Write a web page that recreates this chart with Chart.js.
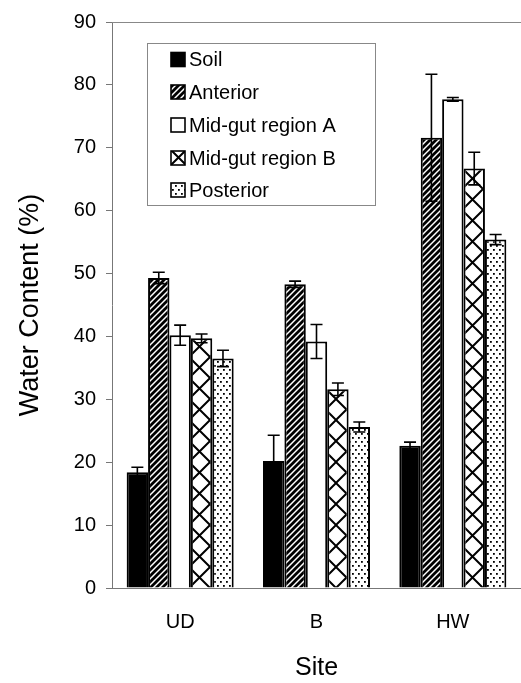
<!DOCTYPE html>
<html><head><meta charset="utf-8">
<script src="https://cdn.jsdelivr.net/npm/chart.js@4/dist/chart.umd.min.js"></script>
<style>html,body{margin:0;padding:0;background:#fff}#wrap{width:521px;height:683px}</style>
</head><body><div id="wrap"><canvas id="c" width="521" height="683"></canvas></div>
<script>
const categories = ['UD', 'B', 'HW'];
const seriesNames = ['Soil', 'Anterior', 'Mid-gut region A', 'Mid-gut region B', 'Posterior'];
const soil = [18.4, 20.2, 22.6];
const soilErr = [0.8, 4.1, 0.6];
const anterior = [49.3, 48.3, 71.6];
const anteriorErr = [0.9, 0.5, 10.1];
const midA = [40.2, 39.2, 77.7];
const midAErr = [1.6, 2.7, 0.3];
const midB = [39.7, 31.6, 66.7];
const midBErr = [0.7, 1.0, 2.6];
const posterior = [36.5, 25.6, 55.4];
const posteriorErr = [1.3, 0.8, 0.8];
const yTicks = [0, 10, 20, 30, 40, 50, 60, 70, 80, 90];

const FONT = "'Liberation Sans', Arial, Helvetica, sans-serif";
Chart.defaults.font.family = FONT;

function makeTile(w, h, draw) {
  const c = document.createElement('canvas');
  c.width = w; c.height = h;
  const g = c.getContext('2d');
  g.fillStyle = '#fff'; g.fillRect(0, 0, w, h);
  draw(g, w, h);
  return document.getElementById('c').getContext('2d').createPattern(c, 'repeat');
}
const stripePat = makeTile(6, 6, (g, w, h) => {
  g.strokeStyle = '#000'; g.lineWidth = 2.8; g.lineCap = 'square';
  g.beginPath();
  g.moveTo(-1, h + 1); g.lineTo(w + 1, -1);
  g.moveTo(-w / 2 - 1, h / 2 + 1); g.lineTo(w / 2 + 1, -h / 2 - 1);
  g.moveTo(w / 2 - 1, h * 1.5 + 1); g.lineTo(w * 1.5 + 1, h / 2 - 1);
  g.stroke();
});
const crossPat = makeTile(21, 21, (g, w, h) => {
  g.strokeStyle = '#000'; g.lineWidth = 2;
  g.beginPath();
  g.moveTo(-1, -1); g.lineTo(w + 1, h + 1);
  g.moveTo(w + 1, -1); g.lineTo(-1, h + 1);
  g.stroke();
});
const dotPat = makeTile(6, 8, (g) => {
  g.fillStyle = '#000';
  g.fillRect(1, 1, 1.8, 1.8);
  g.fillRect(4, 5, 1.8, 1.8);
});

const fills = ['#000', stripePat, '#fff', crossPat, dotPat];
const values = [soil, anterior, midA, midB, posterior];
const errors = [soilErr, anteriorErr, midAErr, midBErr, posteriorErr];

const datasets = seriesNames.map((name, i) => ({
  label: name,
  data: values[i],
  errors: errors[i],
  backgroundColor: fills[i],
  borderColor: '#000',
  borderWidth: 2,
  barPercentage: 1,
  categoryPercentage: 0.785
}));

const framePlugin = {
  id: 'frame',
  beforeDatasetsDraw(chart) {
    const { ctx, chartArea } = chart;
    ctx.save();
    ctx.strokeStyle = '#888'; ctx.lineWidth = 1;
    ctx.beginPath();
    ctx.moveTo(chartArea.left, chartArea.top + 0.5);
    ctx.lineTo(chartArea.right, chartArea.top + 0.5);
    ctx.stroke();
    ctx.restore();
  }
};

const errorPlugin = {
  id: 'errbars',
  afterDatasetsDraw(chart) {
    const { ctx } = chart;
    const ys = chart.scales.y;
    ctx.save();
    ctx.strokeStyle = '#000'; ctx.lineWidth = 1.6;
    chart.data.datasets.forEach((ds, i) => {
      const meta = chart.getDatasetMeta(i);
      meta.data.forEach((bar, j) => {
        const v = ds.data[j], e = ds.errors[j];
        const yHi = ys.getPixelForValue(v + e), yLo = ys.getPixelForValue(v - e);
        const x = bar.x, cap = 6;
        ctx.beginPath();
        ctx.moveTo(x, yHi); ctx.lineTo(x, yLo);
        ctx.moveTo(x - cap, yHi); ctx.lineTo(x + cap, yHi);
        ctx.moveTo(x - cap, yLo); ctx.lineTo(x + cap, yLo);
        ctx.stroke();
      });
    });
    ctx.restore();
  }
};

const legendPlugin = {
  id: 'boxlegend',
  afterDraw(chart) {
    const { ctx } = chart;
    const bx = 147, by = 43, bw = 228, bh = 162;
    ctx.save();
    ctx.strokeStyle = '#888'; ctx.lineWidth = 1;
    ctx.strokeRect(bx + 0.5, by + 0.5, bw, bh);
    const rows = [59.5, 92, 125, 158, 190];
    ctx.font = '20px ' + FONT;
    ctx.textBaseline = 'middle';
    ctx.textAlign = 'left';
    chart.data.datasets.forEach((ds, i) => {
      const cy = rows[i];
      ctx.fillStyle = ds.backgroundColor;
      ctx.fillRect(171, cy - 7, 14, 14);
      ctx.strokeStyle = '#000'; ctx.lineWidth = 1.6;
      ctx.strokeRect(171, cy - 7, 14, 14);
      ctx.fillStyle = '#000';
      ctx.fillText(ds.label, 189, cy + 1);
    });
    ctx.restore();
  }
};

new Chart(document.getElementById('c'), {
  type: 'bar',
  data: { labels: categories, datasets },
  plugins: [framePlugin, errorPlugin, legendPlugin],
  options: {
    responsive: false,
    animation: false,
    devicePixelRatio: 1,
    layout: { padding: { top: 21, right: -3, left: 0, bottom: 0 } },
    plugins: { legend: { display: false }, tooltip: { enabled: false } },
    scales: {
      x: {
        grid: { display: false, drawTicks: false },
        border: { display: true, color: '#777', width: 1 },
        ticks: { font: { size: 20 }, color: '#000', padding: 22 },
        title: { display: true, text: 'Site', font: { size: 25 }, color: '#000', padding: { top: 0, bottom: 0 } },
        afterFit(s) { s.height = 95; }
      },
      y: {
        min: 0, max: 90,
        afterBuildTicks(s) { s.ticks = yTicks.map(v => ({ value: v })); },
        ticks: { font: { size: 20 }, color: '#000', padding: 10 },
        grid: { drawOnChartArea: false, drawTicks: true, tickLength: 6, color: '#777' },
        border: { display: true, color: '#777', width: 1 },
        title: { display: true, text: 'Water Content (%)', font: { size: 27 }, color: '#000', padding: { top: 14, bottom: 14 } },
        afterFit(s) { s.width = 112; }
      }
    }
  }
});
</script></body></html>
